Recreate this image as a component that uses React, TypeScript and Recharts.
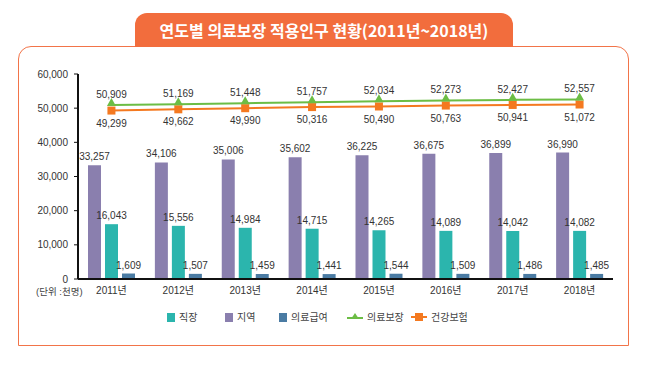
import React from "react";
import {
  ComposedChart,
  Bar,
  Line,
  XAxis,
  YAxis,
  LabelList,
} from "recharts";

const years = ["2011년", "2012년", "2013년", "2014년", "2015년", "2016년", "2017년", "2018년"];
const jiyeok = [33257, 34106, 35006, 35602, 36225, 36675, 36899, 36990];
const jikjang = [16043, 15556, 14984, 14715, 14265, 14089, 14042, 14082];
const uiryoGeubyeo = [1609, 1507, 1459, 1441, 1544, 1509, 1486, 1485];
const uiryoBojang = [50909, 51169, 51448, 51757, 52034, 52273, 52427, 52557];
const geongangBoheom = [49299, 49662, 49990, 50316, 50490, 50763, 50941, 51072];
const yTicks = [0, 10000, 20000, 30000, 40000, 50000, 60000];

const C_PURPLE = "#8a7fae";
const C_TEAL = "#2bb5ad";
const C_BLUE = "#4a7ba3";
const C_GREEN = "#6cbd45";
const C_ORANGE = "#f47920";
const C_BORDER = "#f27449";

const data = years.map((y, i) => ({
  year: y,
  jiyeok: jiyeok[i],
  jikjang: jikjang[i],
  geubyeo: uiryoGeubyeo[i],
  bojang: uiryoBojang[i],
  boheom: geongangBoheom[i],
}));

const FONT = '"Liberation Sans", Arial, "Noto Sans CJK KR", sans-serif';
const fmt = (v: any) => Number(v).toLocaleString("en-US");

const Triangle = (props: any) => {
  const { cx, cy } = props;
  if (cx == null || cy == null) return null;
  return <path d={`M${cx},${cy - 7} L${cx + 4.5},${cy + 1} L${cx - 4.5},${cy + 1} Z`} fill={C_GREEN} />;
};
const Square = (props: any) => {
  const { cx, cy } = props;
  if (cx == null || cy == null) return null;
  return <rect x={cx - 4} y={cy - 4} width={8} height={8} fill={C_ORANGE} />;
};

const legendItems = [
  { name: "직장", color: C_TEAL, type: "box", x: 167 },
  { name: "지역", color: C_PURPLE, type: "box", x: 225 },
  { name: "의료급여", color: C_BLUE, type: "box", x: 279 },
  { name: "의료보장", color: C_GREEN, type: "tri", x: 347 },
  { name: "건강보험", color: C_ORANGE, type: "sq", x: 411 },
];

const LegendContent = () => (
  <svg width={650} height={20} style={{ overflow: "visible" }}>
    {legendItems.map((it) => {
      const cy = 10;
      let icon;
      if (it.type === "box") {
        icon = <rect x={it.x} y={cy - 4} width={8} height={9} fill={it.color} />;
      } else if (it.type === "tri") {
        icon = (
          <g>
            <line x1={it.x} x2={it.x + 16} y1={cy + 1} y2={cy + 1} stroke={it.color} strokeWidth={2} />
            <path d={`M${it.x + 8},${cy - 4} L${it.x + 12},${cy + 2} L${it.x + 4},${cy + 2} Z`} fill={it.color} />
          </g>
        );
      } else {
        icon = (
          <g>
            <line x1={it.x} x2={it.x + 16} y1={cy} y2={cy} stroke={it.color} strokeWidth={2} />
            <rect x={it.x + 4} y={cy - 4} width={8} height={8} fill={it.color} />
          </g>
        );
      }
      const tx = it.type === "box" ? it.x + 12 : it.x + 20;
      return (
        <g key={it.name}>
          {icon}
          <text x={tx} y={cy + 4} fontSize={10} fill="#444" fontFamily={FONT}>
            {it.name}
          </text>
        </g>
      );
    })}
  </svg>
);

export default function App() {
  return (
    <div style={{ position: "absolute", left: 0, top: 0, width: 650, height: 369, background: "#fff", fontFamily: FONT }}>
      <div
        style={{
          position: "absolute",
          left: 18,
          top: 46,
          width: 611,
          height: 300,
          border: `1.5px solid ${C_BORDER}`,
          borderRadius: "13px 13px 0 0",
          boxSizing: "border-box",
        }}
      />
      <div
        style={{
          position: "absolute",
          left: 135,
          top: 13,
          width: 378,
          height: 34,
          background: "#f26d3d",
          borderRadius: "12px 12px 0 0",
          color: "#fff",
          fontWeight: 700,
          fontSize: 16,
          fontFamily: '"Noto Sans CJK KR", sans-serif',
          textAlign: "center",
          lineHeight: "34px",
        }}
      >
        연도별 의료보장 적용인구 현황(2011년~2018년)
      </div>
      <div
        style={{
          position: "absolute",
          left: 36,
          top: 284,
          fontSize: 9.5,
          color: "#444",
          fontFamily: FONT,
          whiteSpace: "nowrap",
        }}
      >
        (단위 :천명)
      </div>
      <div style={{ position: "absolute", left: 0, top: 0 }}>
        <ComposedChart
          width={650}
          height={369}
          data={data}
          margin={{ top: 74, right: 37, bottom: 70, left: 0 }}
          barSize={13}
          barGap={4}
        >
          <XAxis
            dataKey="year"
            axisLine={{ stroke: "#111", strokeWidth: 2 }}
            tickLine={false}
            tick={{ fontSize: 10, fill: "#333", fontFamily: FONT }}
            tickMargin={2}
            height={20}
          />
          <YAxis
            domain={[0, 60000]}
            ticks={yTicks}
            tickFormatter={fmt}
            width={78}
            axisLine={{ stroke: "#111", strokeWidth: 2 }}
            tickLine={{ stroke: "#111" }}
            tickSize={4}
            tickMargin={6}
            tick={{ fontSize: 10, fill: "#333", fontFamily: FONT }}
          />
          <Bar dataKey="jiyeok" fill={C_PURPLE} isAnimationActive={false}>
            <LabelList dataKey="jiyeok" position="top" formatter={fmt} style={{ fontSize: 10, fill: "#333", fontFamily: FONT }} />
          </Bar>
          <Bar dataKey="jikjang" fill={C_TEAL} isAnimationActive={false}>
            <LabelList dataKey="jikjang" position="top" formatter={fmt} style={{ fontSize: 10, fill: "#333", fontFamily: FONT }} />
          </Bar>
          <Bar dataKey="geubyeo" fill={C_BLUE} isAnimationActive={false}>
            <LabelList dataKey="geubyeo" position="top" formatter={fmt} style={{ fontSize: 10, fill: "#333", fontFamily: FONT }} />
          </Bar>
          <Line
            dataKey="boheom"
            stroke={C_ORANGE}
            strokeWidth={2}
            dot={<Square />}
            isAnimationActive={false}
          >
            <LabelList dataKey="boheom" position="bottom" offset={9} formatter={fmt} style={{ fontSize: 10, fill: "#333", fontFamily: FONT }} />
          </Line>
          <Line
            dataKey="bojang"
            stroke={C_GREEN}
            strokeWidth={2}
            dot={<Triangle />}
            isAnimationActive={false}
          >
            <LabelList dataKey="bojang" position="top" offset={7} formatter={fmt} style={{ fontSize: 10, fill: "#333", fontFamily: FONT }} />
          </Line>
        </ComposedChart>
      </div>
      <div style={{ position: "absolute", left: 0, top: 307 }}>
        <LegendContent />
      </div>
    </div>
  );
}
